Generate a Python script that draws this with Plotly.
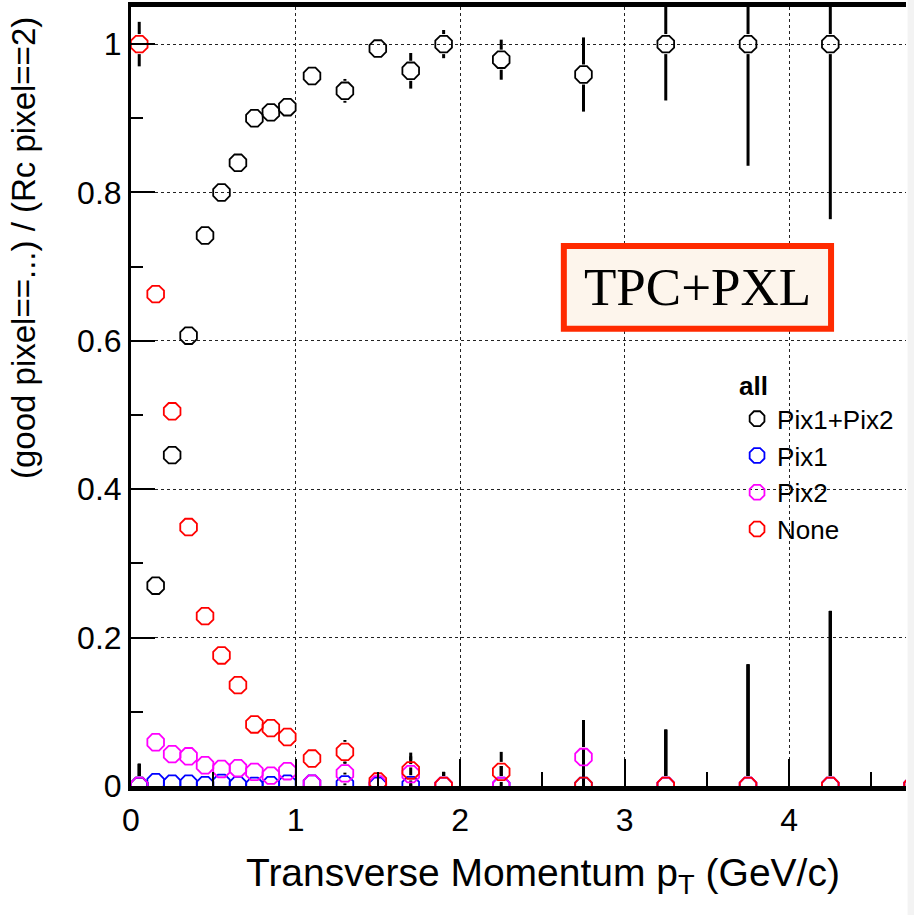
import plotly.graph_objects as go

# Transverse-momentum bin centres (GeV/c)
pt = [0.05, 0.15, 0.25, 0.35, 0.45, 0.55, 0.65, 0.75, 0.85, 0.95,
      1.1, 1.3, 1.5, 1.7, 1.9, 2.25, 2.75, 3.25, 3.75, 4.25, 4.75]

# Ratio (good pixel==...) / (Rc pixel==2) for each pixel-hit category
pix12 = [0.0, 0.270, 0.446, 0.607, 0.742, 0.800, 0.840, 0.900, 0.908, 0.915,
         0.957, 0.937, 0.994, 0.964, 1.000, 0.979, 0.959, 1.000, 1.000, 1.000, 0.0]
pix1 = [0.0, 0.005, 0.003, 0.003, 0.001, 0.004, 0.001, 0.0, 0.001, 0.003,
        0.003, 0.002, 0.0, 0.001, 0.0, 0.0, 0.0, 0.0, 0.0, 0.0, 0.0]
pix2 = [0.0, 0.059, 0.043, 0.040, 0.028, 0.023, 0.024, 0.019, 0.014, 0.020,
        0.003, 0.017, 0.002, 0.016, 0.0, 0.0, 0.039, 0.0, 0.0, 0.0, 0.0]
none = [1.0, 0.663, 0.505, 0.349, 0.229, 0.176, 0.136, 0.083, 0.078, 0.066,
        0.037, 0.046, 0.006, 0.021, 0.0, 0.019, 0.0, 0.0, 0.0, 0.0, 0.0]

# Statistical uncertainty per bin (shared by all categories)
err = [0.030, 0.008, 0.008, 0.008, 0.008, 0.008, 0.008, 0.008, 0.008, 0.008,
       0.010, 0.016, 0.012, 0.024, 0.019, 0.027, 0.050, 0.076, 0.164, 0.236, 0.0]

series = [
    ("Pix1+Pix2", pix12, "#000000"),
    ("Pix1", pix1, "#0000ff"),
    ("Pix2", pix2, "#ff00ff"),
    ("None", none, "#ff0000"),
]

SANS = "Liberation Sans, Arial, Helvetica, sans-serif"
GAP = 0.0135  # half marker height in y units; bars start outside the marker

fig = go.Figure()

# Error bars: vertical segments above and below each marker
ex, ey = [], []
for _, vals, _ in series:
    for x, y, e in zip(pt, vals, err):
        if e > GAP:
            ex += [x, x, None, x, x, None]
            ey += [y + GAP, y + e, None, y - GAP, y - e, None]
fig.add_trace(go.Scatter(
    x=ex, y=ey, mode="lines", line=dict(color="black", width=3),
    showlegend=False, hoverinfo="skip",
))

for name, vals, color in series:
    fig.add_trace(go.Scatter(
        x=pt, y=vals, mode="markers", name=name,
        marker=dict(symbol="octagon-open", size=18, color=color,
                    line=dict(color=color, width=1.8)),
    ))

fig.update_layout(
    width=914, height=915,
    margin=dict(l=131, r=8, t=7, b=129, autoexpand=False),
    paper_bgcolor="white", plot_bgcolor="white",
    showlegend=True,
    legend=dict(
        x=0.782, y=0.545, xanchor="left", yanchor="top",
        bgcolor="rgba(0,0,0,0)", borderwidth=0,
        title=dict(text="<b>all</b>", font=dict(family=SANS, size=26, color="black")),
        font=dict(family=SANS, size=26, color="black"),
        itemsizing="trace",
    ),
    font=dict(family=SANS, color="black"),
)

fig.update_xaxes(
    range=[0, 4.71], dtick=1, tick0=0,
    showline=True, linecolor="black", linewidth=5, mirror=True,
    ticks="inside", ticklen=27, tickwidth=2, tickcolor="black",
    minor=dict(dtick=0.5, ticks="inside", ticklen=14, tickwidth=2, tickcolor="black", showgrid=False),
    showgrid=True, gridcolor="#222222", gridwidth=1, griddash="dot",
    zeroline=False,
    tickfont=dict(family=SANS, size=32, color="black"),
    ticklabelstandoff=2,
)
fig.update_yaxes(
    range=[0, 1.05], dtick=0.2, tick0=0,
    showline=True, linecolor="black", linewidth=3, mirror=False,
    ticks="inside", ticklen=24, tickwidth=2, tickcolor="black",
    minor=dict(dtick=0.1, ticks="inside", ticklen=12, tickwidth=2, tickcolor="black", showgrid=False),
    showgrid=True, gridcolor="#222222", gridwidth=1, griddash="dot",
    zeroline=False,
    tickfont=dict(family=SANS, size=32, color="black"),
)

# Axis titles, right-aligned at the axis ends
fig.add_annotation(
    text="Transverse Momentum p<sub>T</sub> (GeV/c)",
    xref="paper", yref="paper", x=0.917, y=-0.1155,
    xanchor="right", yanchor="middle", showarrow=False,
    font=dict(family=SANS, size=39, color="black"),
)
fig.add_annotation(
    text="(good pixel==...) / (Rc pixel==2)",
    xref="paper", yref="paper", x=-0.1387, y=0.690,
    xanchor="center", yanchor="middle", textangle=-90, showarrow=False,
    font=dict(family=SANS, size=33, color="black"),
)

# Detector label box
fig.add_shape(
    type="rect", xref="paper", yref="paper",
    x0=0.5585, x1=0.9033, y0=0.587, y1=0.6932,
    line=dict(color="#ff2a00", width=6), fillcolor="#fdf5ec", layer="above",
)
fig.add_annotation(
    text="TPC+PXL", xref="paper", yref="paper", x=0.7305, y=0.6406,
    xanchor="center", yanchor="middle", showarrow=False,
    font=dict(family="Liberation Serif, Times New Roman, serif", size=53, color="black"),
)

# Light strip along the right edge of the canvas
fig.add_shape(
    type="rect", xref="paper", yref="paper",
    x0=1.002, x1=1.05, y0=-0.2, y1=1.02,
    line=dict(width=0), fillcolor="#f3f3f3", layer="below",
)

fig.write_html("out.html")
